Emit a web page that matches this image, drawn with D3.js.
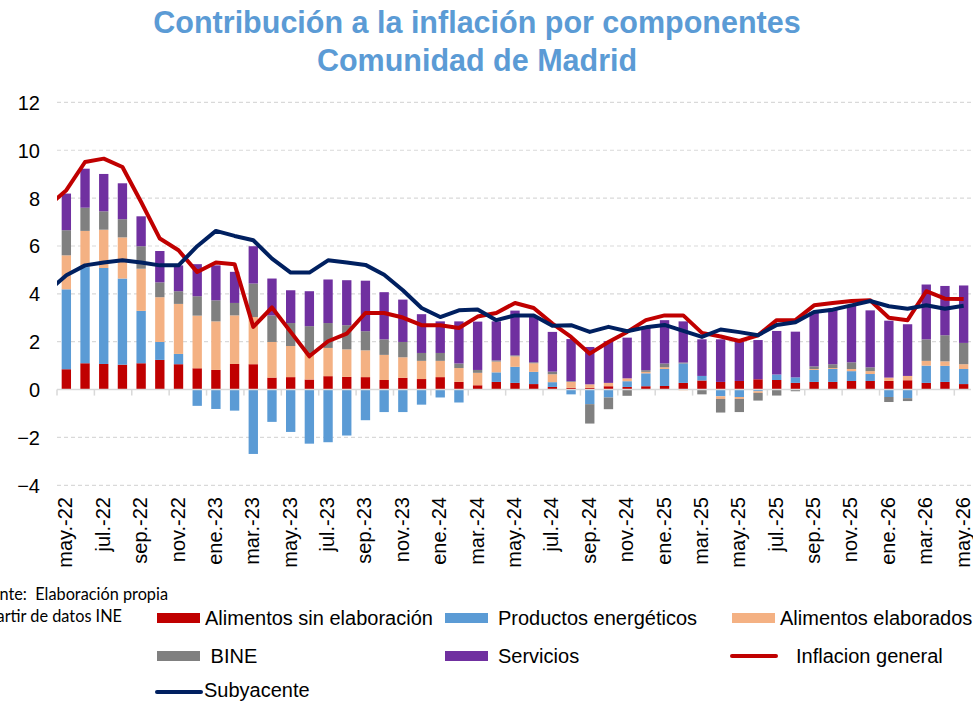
<!DOCTYPE html>
<html>
<head>
<meta charset="utf-8">
<script src="https://cdn.jsdelivr.net/npm/d3@7"></script>
<style>
  html, body { margin: 0; padding: 0; background: #fff; }
  svg { display: block; }
</style>
</head>
<body>
<svg id="chart" width="973" height="702"></svg>
<script>
// ---------- DATA ----------
const categories = [
  "may.-22","jun.-22","jul.-22","ago.-22","sep.-22","oct.-22","nov.-22","dic.-22",
  "ene.-23","feb.-23","mar.-23","abr.-23","may.-23","jun.-23","jul.-23","ago.-23","sep.-23","oct.-23","nov.-23","dic.-23",
  "ene.-24","feb.-24","mar.-24","abr.-24","may.-24","jun.-24","jul.-24","ago.-24","sep.-24","oct.-24","nov.-24","dic.-24",
  "ene.-25","feb.-25","mar.-25","abr.-25","may.-25","jun.-25","jul.-25","ago.-25","sep.-25","oct.-25","nov.-25","dic.-25",
  "ene.-26","feb.-26","mar.-26","abr.-26","may.-26"
];

const alimentosSinElab = [0.85,1.10,1.07,1.04,1.10,1.24,1.06,0.89,0.82,1.07,1.06,0.50,0.52,0.42,0.56,0.53,0.52,0.40,0.49,0.44,
  0.52,0.32,0.18,0.32,0.28,0.23,0.11,0.07,0.07,0.14,0.11,0.14,0.15,0.28,0.38,0.32,0.36,0.43,0.40,0.28,0.32,0.32,0.36,0.36,
  0.36,0.39,0.28,0.32,0.23];
const energeticos = [3.34,4.02,4.01,3.60,2.19,0.75,0.43,-0.68,-0.81,-0.88,-2.69,-1.35,-1.77,-2.26,-2.20,-1.92,-1.28,-0.94,-0.94,-0.63,
  -0.33,-0.54,0.00,0.40,0.67,0.51,0.20,-0.20,-0.61,-0.33,0.24,0.54,0.71,0.81,0.19,-0.28,-0.31,-0.07,0.23,0.23,0.50,0.54,0.41,0.29,
  -0.31,-0.36,0.72,0.67,0.63];
const alimentosElab = [1.42,1.51,1.60,1.72,1.76,1.87,2.09,2.20,2.03,2.03,1.97,1.49,1.30,1.08,1.18,1.15,1.12,1.05,0.86,0.76,
  0.68,0.58,0.52,0.45,0.44,0.36,0.33,0.25,0.15,0.14,0.12,0.06,0.07,-0.03,0.00,-0.11,-0.08,-0.07,0.00,0.00,0.04,0.04,0.09,0.12,
  0.14,0.18,0.20,0.19,0.20];
const bine = [1.05,0.97,0.77,0.76,0.94,0.62,0.53,0.81,0.88,0.52,1.40,1.11,0.96,1.15,1.04,1.01,0.80,0.65,0.64,0.33,
  0.33,0.19,0.12,0.05,0.04,0.04,0.11,0.03,-0.81,-0.49,-0.26,0.07,0.16,0.04,-0.20,-0.57,-0.55,-0.32,-0.25,-0.07,0.11,0.16,0.28,0.16,
  -0.21,-0.12,0.90,1.09,0.89];
const servicios = [1.53,1.63,1.56,1.50,1.25,1.31,1.08,1.34,1.46,1.30,1.56,1.54,1.37,1.46,1.82,1.88,2.11,1.97,1.77,1.62,
  1.32,1.76,2.02,1.63,1.87,1.89,1.66,1.76,1.56,1.74,1.70,1.81,1.81,1.72,1.53,1.78,1.64,1.64,1.82,1.91,2.27,2.32,2.38,2.38,
  2.38,2.16,2.29,2.06,2.40];

const inflacionGeneral = [8.33,9.51,9.65,9.30,7.84,6.31,5.82,4.91,5.31,5.24,2.62,3.43,2.41,1.39,2.02,2.34,3.20,3.20,3.01,2.69,
  2.69,2.57,3.05,3.20,3.62,3.41,2.76,2.20,1.50,1.99,2.41,2.90,3.10,3.10,2.37,2.22,2.03,2.27,2.90,2.90,3.52,3.62,3.70,3.73,
  3.00,2.90,4.11,3.80,3.79];
const subyacente = [4.78,5.19,5.31,5.40,5.31,5.19,5.19,5.99,6.63,6.42,6.24,5.47,4.89,4.89,5.40,5.31,5.21,4.80,4.15,3.41,
  3.03,3.31,3.35,2.90,3.10,3.10,2.67,2.69,2.41,2.62,2.44,2.60,2.70,2.45,2.20,2.51,2.40,2.27,2.70,2.81,3.24,3.34,3.52,3.70,
  3.48,3.38,3.52,3.38,3.50];
// value of the month before the first category (abr.-22), line enters from the left edge
const inflacionPrevia = 7.65;
const subyacentePrevia = 4.10;

const yTicks = [12, 10, 8, 6, 4, 2, 0, -2, -4];

const seriesNames = ["Alimentos sin elaboración", "Productos energéticos", "Alimentos elaborados", "BINE", "Servicios"];
const seriesColors = ["#C00000", "#5B9BD5", "#F4B183", "#808080", "#7030A0"];
const lineNames = ["Inflacion general", "Subyacente"];
const lineColors = ["#C00000", "#002060"];

// ---------- LAYOUT ----------
const svg = d3.select("#chart");
const plot = { left: 57, right: 973, top: 101, bottom: 485 };
const font = "'Liberation Sans', Arial, sans-serif";

const x = d3.scaleBand().domain(categories).range([plot.left, plot.right]).paddingInner(0.5).paddingOuter(0.25);
const y = d3.scaleLinear().domain([-4, 12]).range([485.3, 102.4]);

// Title
const title = svg.append("text")
  .attr("x", 477).attr("text-anchor", "middle")
  .style("font-family", font)
  .style("font-weight", "bold").style("font-size", "30.5px").style("fill", "#5B9BD5");
title.append("tspan").attr("x", 477).attr("y", 33).text("Contribución a la inflación por componentes");
title.append("tspan").attr("x", 477).attr("y", 71).text("Comunidad de Madrid");

// Gridlines
svg.append("g").selectAll("line").data(yTicks.filter(d => d !== 0)).join("line")
  .attr("x1", plot.left).attr("x2", 971)
  .attr("y1", d => y(d)).attr("y2", d => y(d))
  .attr("stroke", "#D9D9D9").attr("stroke-width", 1.2).attr("stroke-dasharray", "4,3");

// Y axis labels
const yAxis = d3.axisLeft(y).tickValues(yTicks).tickSize(0).tickPadding(0).tickFormat(d3.format("d"));
const yg = svg.append("g").attr("transform", `translate(40,0)`).call(yAxis);
yg.select(".domain").remove();
yg.selectAll("text")
  .style("font-family", font)
  .style("font-size", "20px").style("fill", "#000").attr("dy", "0.35em");

// Stacked bars
const rows = categories.map((c, i) => ({
  cat: c,
  s0: alimentosSinElab[i], s1: energeticos[i], s2: alimentosElab[i], s3: bine[i], s4: servicios[i]
}));
const keys = ["s0", "s1", "s2", "s3", "s4"];
const stack = d3.stack().keys(keys).offset(d3.stackOffsetDiverging);
const stacked = stack(rows);

svg.append("g").selectAll("g").data(stacked).join("g")
  .attr("fill", (d, i) => seriesColors[i])
  .selectAll("rect").data(d => d).join("rect")
  .attr("x", d => x(d.data.cat))
  .attr("width", x.bandwidth())
  .attr("y", d => y(Math.max(d[0], d[1])))
  .attr("height", d => Math.abs(y(d[0]) - y(d[1])));

// Zero line + ticks
svg.append("line").attr("x1", plot.left).attr("x2", 971).attr("y1", y(0)).attr("y2", y(0))
  .attr("stroke", "#D9D9D9").attr("stroke-width", 1.5);
const step = x.step();
const tickPositions = d3.range(0, categories.length + 1, 2).map(i => plot.left + i * step);
svg.append("g").selectAll("line").data(tickPositions).join("line")
  .attr("x1", d => d).attr("x2", d => d)
  .attr("y1", y(0)).attr("y2", y(0) + 6)
  .attr("stroke", "#D9D9D9").attr("stroke-width", 1.5);

// Lines
svg.append("defs").append("clipPath").attr("id", "plotclip")
  .append("rect").attr("x", plot.left).attr("y", 0).attr("width", plot.right - plot.left).attr("height", 702);

const cx = c => x(c) + x.bandwidth() / 2;
const lineGen = d3.line().x(d => d.x).y(d => y(d.v));
function linePoints(prev, vals) {
  const pts = [{ x: cx(categories[0]) - step, v: prev }];
  vals.forEach((v, i) => pts.push({ x: cx(categories[i]), v }));
  return pts;
}
const lg = svg.append("g").attr("clip-path", "url(#plotclip)");
lg.append("path").datum(linePoints(inflacionPrevia, inflacionGeneral))
  .attr("d", lineGen).attr("fill", "none").attr("stroke", lineColors[0])
  .attr("stroke-width", 4).attr("stroke-linejoin", "round");
lg.append("path").datum(linePoints(subyacentePrevia, subyacente))
  .attr("d", lineGen).attr("fill", "none").attr("stroke", lineColors[1])
  .attr("stroke-width", 4).attr("stroke-linejoin", "round");

// X labels (every second category)
svg.append("g").selectAll("text")
  .data(categories.filter((c, i) => i % 2 === 0)).join("text")
  .attr("transform", d => `translate(${cx(d) + 6},497) rotate(-90)`)
  .attr("text-anchor", "end")
  .style("font-family", font)
  .style("font-size", "20px").style("fill", "#000")
  .text(d => d);

// Source (cut at the left edge as in the original)
const src = svg.append("g")
  .style("font-family", "Lato, 'Open Sans', sans-serif")
  .style("font-size", "16.3px").style("fill", "#000")
  .attr("text-anchor", "end");
src.append("text").attr("x", 168).attr("y", 600).attr("xml:space", "preserve")
  .style("white-space", "pre").text("Fuente:  Elaboración propia");
src.append("text").attr("x", 122).attr("y", 622).text("a partir de datos INE");

// Legend
const legendItems = [
  { type: "rect", color: seriesColors[0], label: seriesNames[0], x: 157, y: 618, tx: 205, dy: 7 },
  { type: "rect", color: seriesColors[1], label: seriesNames[1], x: 445, y: 618, tx: 498, dy: 7 },
  { type: "rect", color: seriesColors[2], label: seriesNames[2], x: 732, y: 618, tx: 780, dy: 7 },
  { type: "rect", color: seriesColors[3], label: " " + seriesNames[3], x: 157, y: 656, tx: 205, dy: 7 },
  { type: "rect", color: seriesColors[4], label: seriesNames[4], x: 445, y: 656, tx: 498, dy: 7 },
  { type: "line", color: lineColors[0], label: lineNames[0], x: 731, y: 656, tx: 796, dy: 7 },
  { type: "line", color: lineColors[1], label: lineNames[1], x: 156, y: 692, tx: 204, dy: 5 }
];
const leg = svg.append("g");
legendItems.forEach(it => {
  if (it.type === "rect") {
    leg.append("rect").attr("x", it.x).attr("y", it.y - 5).attr("width", 43).attr("height", 10).attr("fill", it.color);
  } else {
    leg.append("line").attr("x1", it.x + 1).attr("x2", it.x + 45).attr("y1", it.y).attr("y2", it.y)
      .attr("stroke", it.color).attr("stroke-width", 4).attr("stroke-linecap", "round");
  }
  leg.append("text").attr("x", it.tx).attr("y", it.y + it.dy)
    .style("font-family", font).style("font-size", "20px").style("fill", "#000")
    .style("white-space", "pre").attr("xml:space", "preserve")
    .text(it.label);
});
</script>
</body>
</html>
